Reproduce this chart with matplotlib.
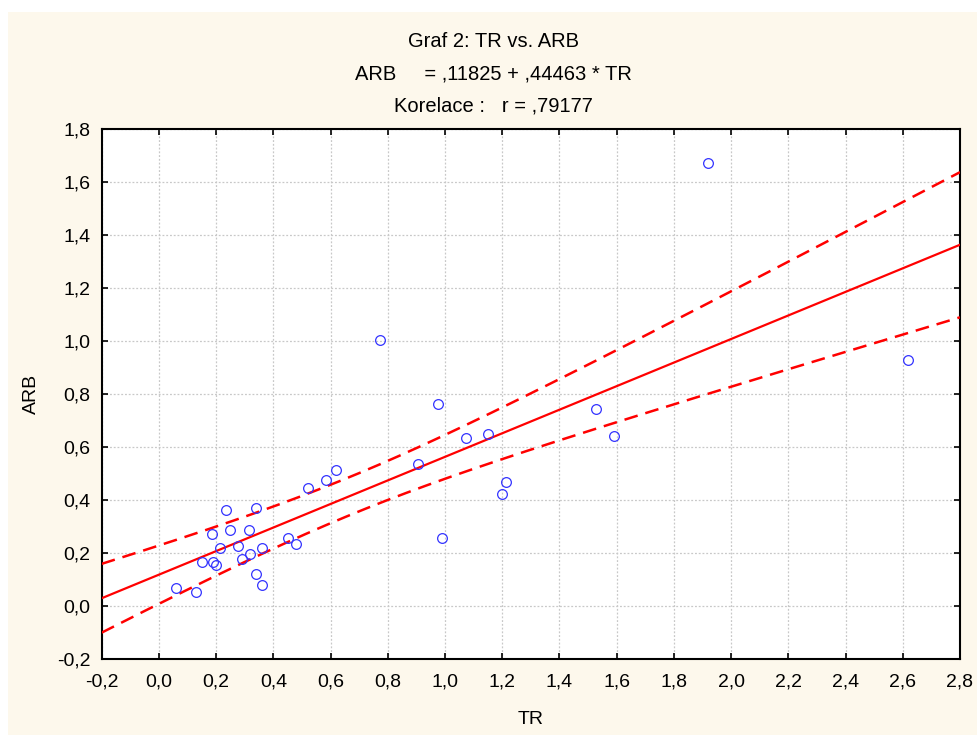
import numpy as np
import matplotlib
matplotlib.use("Agg")
import matplotlib.pyplot as plt
from matplotlib.patches import Rectangle
from matplotlib.ticker import FuncFormatter, MultipleLocator

plt.rcParams["font.family"] = ["Liberation Sans", "DejaVu Sans"]

# TR / ARB observations
tr = [0.060, 0.130, 0.151, 0.185, 0.190, 0.200, 0.214, 0.235, 0.248, 0.275,
      0.290, 0.316, 0.317, 0.338, 0.339, 0.359, 0.360, 0.451, 0.478, 0.521,
      0.584, 0.619, 0.772, 0.905, 0.976, 0.990, 1.074, 1.150, 1.198, 1.213,
      1.528, 1.591, 1.919, 2.618]
arb = [0.067, 0.052, 0.165, 0.271, 0.167, 0.156, 0.220, 0.362, 0.285, 0.226,
       0.179, 0.286, 0.195, 0.120, 0.370, 0.218, 0.081, 0.255, 0.233, 0.445,
       0.475, 0.513, 1.005, 0.536, 0.764, 0.255, 0.635, 0.650, 0.423, 0.467,
       0.742, 0.642, 1.672, 0.930]

intercept = 0.11825
slope = 0.44463
r_value = 0.79177
T_975 = 2.0369  # t(0.975, n-2) for n = 34

x = np.array(tr)
y = np.array(arb)
n = len(x)
resid = y - (intercept + slope * x)
s = np.sqrt(np.sum(resid ** 2) / (n - 2))
sxx = np.sum((x - x.mean()) ** 2)

xs = np.linspace(-0.2, 2.8, 300)
fit = intercept + slope * xs
half = T_975 * s * np.sqrt(1 / n + (xs - x.mean()) ** 2 / sxx)


def comma(v, pos):
    v = round(v, 1)
    if v == 0:
        v = 0.0
    return f"{v:.1f}".replace(".", ",")


fig = plt.figure(figsize=(9.78, 7.35), dpi=100, facecolor="white")
fig.patches.append(Rectangle((8 / 978, 0), 1 - 8 / 978, 723 / 735,
                             transform=fig.transFigure, facecolor="#FDF8EC",
                             edgecolor="none", zorder=-10))

ax = fig.add_axes([101.7 / 978, 76 / 735, 858.3 / 978, 530 / 735])
ax.set_facecolor("white")

ax.plot(xs, fit, color="red", linewidth=1.6, zorder=3)
ax.plot(xs, fit + half, color="red", linewidth=1.8, linestyle=(0, (5.5, 3.2)), zorder=3)
ax.plot(xs, fit - half, color="red", linewidth=1.8, linestyle=(0, (5.5, 3.2)), zorder=3)
ax.plot(x, y, linestyle="none", marker="o", markersize=7, markerfacecolor="none",
        markeredgecolor="#3333FF", markeredgewidth=0.9, zorder=4)

ax.set_xlim(-0.2, 2.8)
ax.set_ylim(-0.2, 1.8)
ax.xaxis.set_major_locator(MultipleLocator(0.2))
ax.yaxis.set_major_locator(MultipleLocator(0.2))
ax.xaxis.set_major_formatter(FuncFormatter(comma))
ax.yaxis.set_major_formatter(FuncFormatter(comma))
ax.tick_params(direction="in", length=4, width=1.2, labelsize=14,
               top=True, right=True)
ax.tick_params(axis="x", pad=10.5)
ax.tick_params(axis="y", pad=8)
ax.grid(True, color="#C8C8C8", linestyle=(0, (1.5, 1.5)), linewidth=0.9)
ax.set_axisbelow(True)
for sp in ax.spines.values():
    sp.set_linewidth(1.5)

ax.set_xlabel("TR", fontsize=14, labelpad=15)
ax.set_ylabel("ARB", fontsize=14, labelpad=12)

fig.text(0.505, 1 - 46.7 / 735, "Graf 2: TR vs. ARB", ha="center", va="baseline",
         fontsize=14.5)
fig.text(0.505, 1 - 79 / 735,
         f"ARB     = ,{str(intercept)[2:]} + ,{str(slope)[2:]} * TR",
         ha="center", va="baseline", fontsize=14.5)
fig.text(0.505, 1 - 111 / 735, f"Korelace :   r = ,{str(r_value)[2:]}",
         ha="center", va="baseline", fontsize=14.5)

fig.savefig("out.png", dpi=100, facecolor=fig.get_facecolor())
